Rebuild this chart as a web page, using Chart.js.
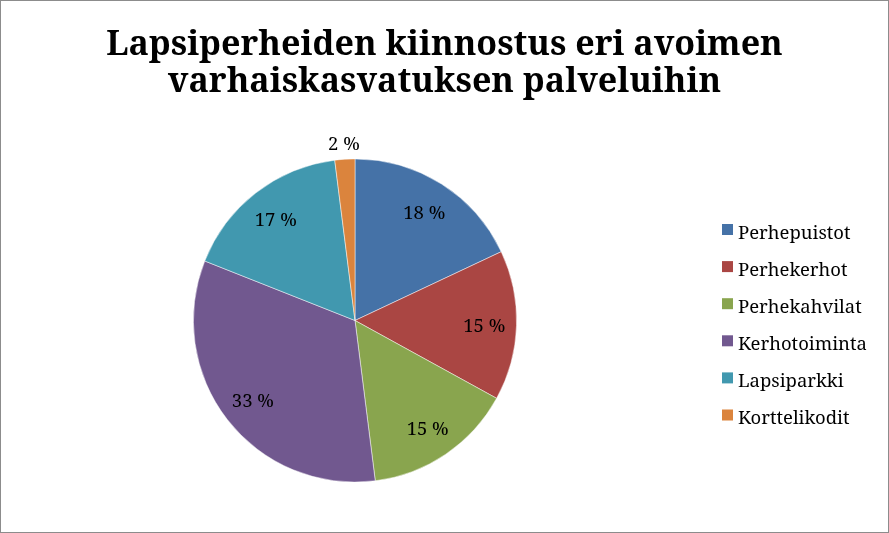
<!DOCTYPE html>
<html>
<head>
<meta charset="utf-8">
<script src="https://cdn.jsdelivr.net/npm/chart.js@4/dist/chart.umd.min.js"></script>
<style>
  html, body { margin: 0; padding: 0; background: #fff; }
</style>
</head>
<body>
<canvas id="pie" width="889" height="533"></canvas>
<script>
// Chart data
const titleLines = ['Lapsiperheiden kiinnostus eri avoimen', 'varhaiskasvatuksen palveluihin'];
const categories = ['Perhepuistot', 'Perhekerhot', 'Perhekahvilat', 'Kerhotoiminta', 'Lapsiparkki', 'Korttelikodit'];
const shares = [18, 15, 15, 33, 17, 2];
const sliceColors = ['#4572A7', '#AA4643', '#89A54E', '#71588F', '#4198AF', '#DB843D'];

const serif = "'Noto Serif', 'DejaVu Serif', serif";

// Frame, title and legend, drawn like the office chart
const frame = {
    id: 'frame',
    beforeDraw(chart) {
        const ctx = chart.ctx;
        ctx.save();
        ctx.fillStyle = '#fff';
        ctx.fillRect(0, 0, chart.width, chart.height);
        ctx.strokeStyle = '#8c8c8c';
        ctx.lineWidth = 1;
        ctx.strokeRect(0.5, 0.5, chart.width - 1, chart.height - 1);
        ctx.restore();
    },
    afterDraw(chart) {
        const ctx = chart.ctx;
        ctx.save();
        ctx.fillStyle = '#000';
        ctx.textBaseline = 'alphabetic';
        ctx.textAlign = 'center';
        ctx.font = 'bold 34px ' + serif;
        titleLines.forEach((line, i) => ctx.fillText(line, chart.width / 2, 55 + i * 37));

        ctx.textAlign = 'left';
        ctx.font = '18.5px ' + serif;
        categories.forEach((name, i) => {
            const y = 224 + i * 37.1;
            ctx.fillStyle = sliceColors[i];
            ctx.fillRect(722, y, 11, 11);
            ctx.fillStyle = '#000';
            ctx.fillText(name, 738, y + 14.5);
        });
        ctx.restore();
    }
};

// Percentage labels: inside the slice, small slices outside
const sliceLabels = {
    id: 'sliceLabels',
    afterDatasetsDraw(chart) {
        const ctx = chart.ctx;
        const arcs = chart.getDatasetMeta(0).data;
        ctx.save();
        ctx.font = '18.5px ' + serif;
        ctx.fillStyle = '#000';
        ctx.textAlign = 'center';
        ctx.textBaseline = 'middle';
        arcs.forEach((arc, i) => {
            const p = arc.getProps(['x', 'y', 'startAngle', 'endAngle', 'outerRadius'], true);
            const mid = (p.startAngle + p.endAngle) / 2;
            const r = p.outerRadius * (shares[i] < 5 ? 1.1 : 0.8);
            ctx.fillText(shares[i] + ' %', p.x + Math.cos(mid) * r, p.y + Math.sin(mid) * r + 2);
        });
        ctx.restore();
    }
};

new Chart(document.getElementById('pie'), {
    type: 'pie',
    data: {
        labels: categories,
        datasets: [{
            data: shares,
            backgroundColor: sliceColors,
            borderColor: 'rgba(255,255,255,0.6)',
            borderWidth: 0.8
        }]
    },
    options: {
        responsive: false,
        animation: false,
        layout: { padding: { top: 158, bottom: 50, left: 193, right: 372 } },
        plugins: {
            title: { display: false },
            legend: { display: false },
            tooltip: { enabled: false }
        }
    },
    plugins: [frame, sliceLabels]
});
</script>
</body>
</html>
